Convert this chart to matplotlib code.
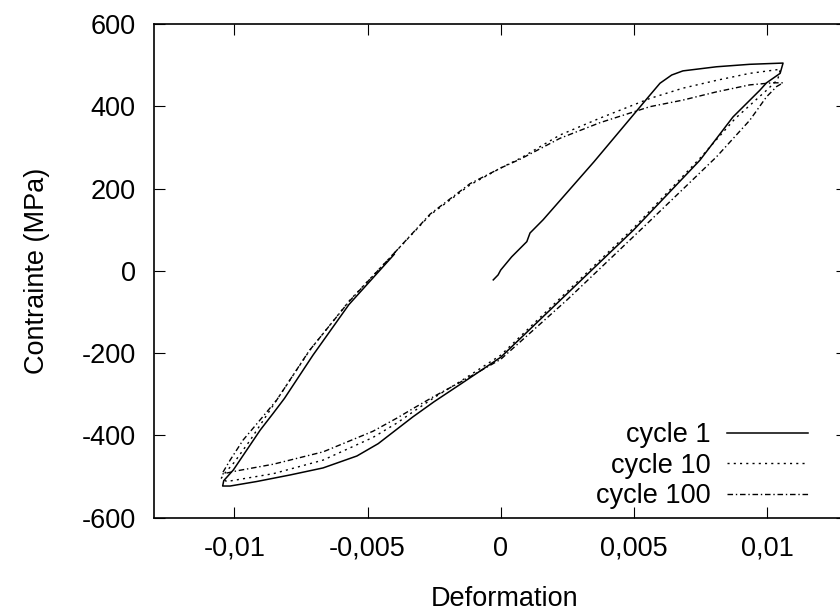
import numpy as np
import matplotlib
matplotlib.use("Agg")
import matplotlib.pyplot as plt

# cycle 1 : monotonic loading, unloading, reloading up to ~ -0.004
eps_c1 = [-0.00028, -0.0001, 0.0, 0.00041, 0.00098, 0.0011, 0.00159, 0.0035, 0.0056, 0.00598,
          0.00642, 0.00684, 0.0081, 0.00935, 0.0106,
          0.01049, 0.00998, 0.00973, 0.00872, 0.00748, 0.005, 0.0025, 0.0, -0.0015, -0.0025,
          -0.0033, -0.0039, -0.0046, -0.0054, -0.00667, -0.0079, -0.00916, -0.01016, -0.01044,
          -0.0104, -0.01004, -0.00953, -0.00903, -0.00854, -0.00812, -0.00705, -0.0057, -0.0040]
sig_c1 = [-22, -10, 2, 34, 71, 92, 124, 265, 427, 456,
          476, 486, 496, 502, 505,
          480, 457, 439, 374, 269, 100, -55, -210, -275, -318,
          -355, -385, -420, -450, -479, -496, -512, -523, -523,
          -510, -484, -435, -387, -346, -310, -205, -82, 40]

# cycle 10 : closed loop
eps_c10 = [-0.0040, -0.00265, -0.00115, 0.0, 0.00075, 0.00222, 0.00372, 0.0056, 0.00684, 0.0081,
           0.00935, 0.0105,
           0.0104, 0.0100, 0.0088, 0.0075, 0.005, 0.0025, 0.0, -0.0015, -0.0025, -0.0033,
           -0.0039, -0.0048, -0.00667, -0.00854, -0.01028, -0.0105,
           -0.0104, -0.0100, -0.0094, -0.00828, -0.00716, -0.00566, -0.0040]
sig_c10 = [43, 136, 209, 250, 274, 330, 371, 419, 444, 463,
           480, 490,
           465, 440, 370, 275, 105, -50, -205, -268, -308, -343,
           -370, -405, -460, -493, -512, -505,
           -495, -465, -411, -301, -192, -71, 43]

# cycle 100 : closed loop
eps_c100 = [-0.0040, -0.00265, -0.00115, 0.0, 0.00075, 0.00222, 0.00372, 0.0056, 0.00684, 0.0081,
            0.00935, 0.0102, 0.0106,
            0.01036, 0.00998, 0.00935, 0.0081, 0.0055, 0.0025, 0.0, -0.0015, -0.0025, -0.0033,
            -0.0039, -0.0048, -0.00667, -0.00854, -0.0099, -0.01047,
            -0.01016, -0.00967, -0.00903, -0.00841, -0.0072, -0.0057, -0.0040]
sig_c100 = [43, 138, 212, 250, 272, 322, 360, 399, 415, 435,
            452, 457, 457,
            448, 423, 366, 277, 115, -70, -215, -270, -305, -335,
            -358, -390, -440, -470, -486, -494,
            -460, -411, -362, -314, -195, -75, 43]

labels = ["cycle 1", "cycle 10", "cycle 100"]

plt.rcParams["font.family"] = ["Liberation Sans", "DejaVu Sans"]
plt.rcParams["axes.unicode_minus"] = False
fs = 19.5

fig = plt.figure(figsize=(8.4, 6.15), dpi=100)
ax = fig.add_axes([0.1839, 0.1582, 0.8244, 0.8028])

ax.plot(eps_c1, sig_c1, color="black", lw=1.1, label=labels[0])
ax.plot(eps_c10, sig_c10, color="black", lw=1.0, linestyle=(0, (1.5, 3)), label=labels[1])
ax.plot(eps_c100, sig_c100, color="black", lw=1.0, linestyle=(0, (4, 2, 1, 2)), label=labels[2])

ax.set_xlim(-0.013, 0.013)
ax.set_ylim(-600, 600)
ax.set_xticks([-0.01, -0.005, 0, 0.005, 0.01])
ax.set_xticklabels(["-0,01", "-0,005", "0", "0,005", "0,01"])
ax.set_yticks([-600, -400, -200, 0, 200, 400, 600])
ax.tick_params(direction="in", length=8, width=0.8, top=True, right=True, labelsize=fs)
ax.tick_params(axis="x", pad=13)
ax.tick_params(axis="y", pad=13.5)
for s in ax.spines.values():
    s.set_linewidth(1.2)

ax.set_xlabel("Deformation", fontsize=fs)
ax.set_ylabel("Contrainte (MPa)", fontsize=fs)
ax.xaxis.set_label_coords(0.505, -0.139)
ax.yaxis.set_label_coords(-0.151, 0.5)

ax.legend(loc="lower right", bbox_to_anchor=(0.962, 0.172), bbox_transform=fig.transFigure,
          frameon=False, markerfirst=False, fontsize=fs, handlelength=3.0,
          handletextpad=0.6, labelspacing=0.17, borderpad=0, borderaxespad=0)

plt.savefig("out.png", dpi=100)
